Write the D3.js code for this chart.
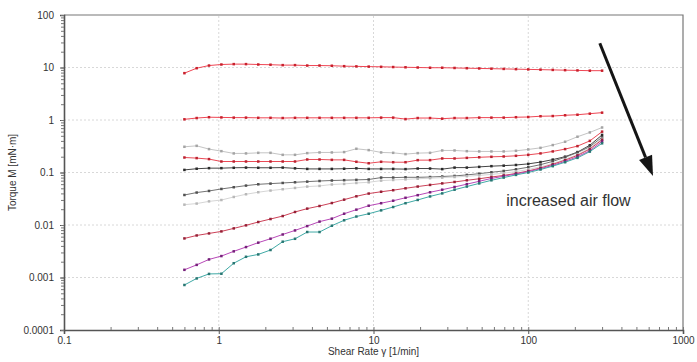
<!DOCTYPE html>
<html>
<head>
<meta charset="utf-8">
<script src="https://cdn.jsdelivr.net/npm/d3@7"></script>
<style>
  body { margin: 0; background: #fff; }
  svg text { font-family: "Liberation Sans", Arial, sans-serif; }
</style>
</head>
<body>
<svg id="chart" width="697" height="362"></svg>
<script>
// shear rate steps [1/min]
const shearRate = [0.6, 0.72, 0.865, 1.04, 1.25, 1.5, 1.8, 2.16, 2.59, 3.11, 3.73, 4.48,
  5.38, 6.46, 7.75, 9.31, 11.2, 13.4, 16.1, 19.3, 23.2, 27.8, 33.4, 40.1, 48.2, 57.8,
  69.4, 83.3, 100, 120, 144, 173, 208, 250, 300];

// torque [mN·m], one array per air flow setting (top to bottom)
const torque1 = [7.8, 9.7, 10.9, 11.4, 11.6, 11.6, 11.4, 11.3, 11.1, 11.1, 10.9, 10.9, 10.8,
  10.6, 10.5, 10.4, 10.3, 10.2, 10.1, 10.0, 9.9, 9.9, 9.8, 9.7, 9.6, 9.5, 9.4, 9.3, 9.2, 9.1,
  9.0, 8.9, 8.8, 8.7, 8.7];
const torque2 = [1.03, 1.09, 1.13, 1.12, 1.11, 1.11, 1.10, 1.10, 1.09, 1.10, 1.10, 1.10, 1.10,
  1.10, 1.10, 1.10, 1.11, 1.11, 1.04, 1.09, 1.09, 1.06, 1.09, 1.09, 1.11, 1.11, 1.11, 1.13,
  1.14, 1.18, 1.19, 1.23, 1.26, 1.32, 1.38];
const torque3 = [0.309, 0.322, 0.279, 0.255, 0.231, 0.231, 0.237, 0.237, 0.217, 0.217, 0.234,
  0.241, 0.241, 0.245, 0.283, 0.267, 0.241, 0.237, 0.224, 0.234, 0.237, 0.263, 0.263, 0.255,
  0.252, 0.252, 0.252, 0.259, 0.275, 0.295, 0.333, 0.385, 0.48, 0.58, 0.72];
const torque4 = [0.193, 0.188, 0.180, 0.162, 0.162, 0.162, 0.162, 0.162, 0.162, 0.162, 0.177,
  0.177, 0.174, 0.174, 0.160, 0.150, 0.160, 0.157, 0.157, 0.172, 0.172, 0.185, 0.185, 0.190,
  0.195, 0.199, 0.202, 0.208, 0.217, 0.231, 0.252, 0.279, 0.318, 0.40, 0.60];
const torque5 = [0.112, 0.118, 0.121, 0.121, 0.123, 0.124, 0.123, 0.123, 0.124, 0.120, 0.117,
  0.117, 0.117, 0.118, 0.120, 0.117, 0.117, 0.117, 0.116, 0.119, 0.119, 0.116, 0.124, 0.124,
  0.128, 0.132, 0.135, 0.139, 0.146, 0.158, 0.176, 0.20, 0.245, 0.33, 0.52];
const torque6 = [0.0373, 0.0415, 0.0445, 0.0486, 0.0524, 0.0563, 0.0596, 0.0614, 0.0632,
  0.0651, 0.067, 0.0689, 0.0704, 0.0714, 0.0724, 0.0736, 0.080, 0.080, 0.081, 0.081, 0.082,
  0.084, 0.086, 0.090, 0.095, 0.101, 0.107, 0.115, 0.126, 0.141, 0.163, 0.195, 0.24, 0.31, 0.47];
const torque7 = [0.0244, 0.0256, 0.0282, 0.0299, 0.0342, 0.0385, 0.0421, 0.0453, 0.048,
  0.0508, 0.0539, 0.0555, 0.0591, 0.0606, 0.0632, 0.0651, 0.070, 0.072, 0.074, 0.076, 0.078,
  0.080, 0.082, 0.085, 0.088, 0.092, 0.097, 0.104, 0.114, 0.128, 0.148, 0.178, 0.22, 0.29, 0.44];
const torque8 = [0.00555, 0.00632, 0.00691, 0.00755, 0.00862, 0.00985, 0.0114, 0.013, 0.0148,
  0.0177, 0.0205, 0.023, 0.0262, 0.0304, 0.0352, 0.0397, 0.043, 0.046, 0.050, 0.054, 0.058,
  0.062, 0.066, 0.071, 0.076, 0.082, 0.088, 0.096, 0.107, 0.122, 0.143, 0.172, 0.212, 0.28, 0.42];
const torque9 = [0.0014, 0.00174, 0.00221, 0.00256, 0.00315, 0.0038, 0.00461, 0.00548, 0.0066,
  0.00788, 0.00953, 0.0116, 0.0132, 0.0164, 0.0196, 0.0233, 0.026, 0.029, 0.033, 0.037, 0.042,
  0.047, 0.053, 0.060, 0.068, 0.077, 0.085, 0.094, 0.104, 0.118, 0.137, 0.163, 0.20, 0.26, 0.39];
const torque10 = [0.00072, 0.00096, 0.00117, 0.00118, 0.00187, 0.00248, 0.00275, 0.00334,
  0.00481, 0.00546, 0.00735, 0.00735, 0.00969, 0.0123, 0.0145, 0.0164, 0.019, 0.022, 0.026,
  0.030, 0.035, 0.040, 0.047, 0.054, 0.062, 0.071, 0.080, 0.090, 0.100, 0.114, 0.132, 0.157,
  0.19, 0.25, 0.36];

const xTicks = [0.1, 1, 10, 100, 1000];
const yTicks = [0.0001, 0.001, 0.01, 0.1, 1, 10, 100];
const yTickLabels = ["0.0001", "0.001", "0.01", "0.1", "1", "10", "100"];

const series = [
  { values: torque1, line: "#ef4654", dot: "#c8202c" },
  { values: torque2, line: "#ef4654", dot: "#c8202c" },
  { values: torque3, line: "#c4c4c4", dot: "#a4a4a4" },
  { values: torque4, line: "#ea4a56", dot: "#bb2230" },
  { values: torque5, line: "#444", dot: "#2a2a2a" },
  { values: torque6, line: "#737373", dot: "#505050" },
  { values: torque7, line: "#d6d6d6", dot: "#b8b8b8" },
  { values: torque8, line: "#cc4258", dot: "#962036" },
  { values: torque9, line: "#b848b8", dot: "#76207a" },
  { values: torque10, line: "#40aaa6", dot: "#287672" },
];

const svg = d3.select("#chart");
const margin = { left: 64, right: 14, top: 15, bottom: 32 };
const W = 697, H = 362;

const x = d3.scaleLog().domain([0.1, 1000]).range([margin.left, W - margin.right]);
const y = d3.scaleLog().domain([0.0001, 100]).range([H - margin.bottom, margin.top]);

// grid
const grid = svg.append("g").attr("stroke", "#d8d8d8").attr("stroke-dasharray", "2,2");
grid.selectAll("line.gx").data(xTicks.slice(1, -1)).enter().append("line")
  .attr("x1", d => x(d)).attr("x2", d => x(d))
  .attr("y1", y.range()[0]).attr("y2", y.range()[1]);
grid.selectAll("line.gy").data(yTicks.slice(1, -1)).enter().append("line")
  .attr("x1", x.range()[0]).attr("x2", x.range()[1])
  .attr("y1", d => y(d)).attr("y2", d => y(d));

// frame on top and right
svg.append("path")
  .attr("d", `M${x.range()[0]},${y.range()[1]}H${x.range()[1]}V${y.range()[0]}`)
  .attr("fill", "none").attr("stroke", "#777").attr("stroke-width", 1.2);

// axes
const xAxis = d3.axisBottom(x).tickValues(xTicks).tickFormat(d => String(d)).tickSize(4).tickPadding(3);
const gx = svg.append("g").attr("transform", `translate(0,${y.range()[0]})`).call(xAxis);
const xMinor = svg.append("g").attr("transform", `translate(0,${y.range()[0]})`)
  .call(d3.axisBottom(x).ticks(40).tickFormat("").tickSize(-3));
xMinor.select(".domain").remove();

const yAxis = d3.axisLeft(y).tickValues(yTicks).tickFormat((d, i) => yTickLabels[i]).tickSize(4).tickPadding(6);
const gy = svg.append("g").attr("transform", `translate(${x.range()[0]},0)`).call(yAxis);
const yMinor = svg.append("g").attr("transform", `translate(${x.range()[0]},0)`)
  .call(d3.axisLeft(y).ticks(60).tickFormat("").tickSize(3));
yMinor.select(".domain").remove();

[gx, gy].forEach(g => {
  g.select(".domain").attr("stroke", "#555").attr("stroke-width", 1.6);
  g.selectAll(".tick line").attr("stroke", "#555");
  g.selectAll(".tick text").attr("fill", "#333").attr("font-size", 10)
    .attr("font-family", "'Liberation Sans', Arial, sans-serif");
});
[xMinor, yMinor].forEach(g => g.selectAll(".tick line").attr("stroke", "#777"));

// axis titles
svg.append("text")
  .attr("x", (x.range()[0] + x.range()[1]) / 2).attr("y", 355)
  .attr("text-anchor", "middle").attr("font-size", 10).attr("fill", "#333")
  .text("Shear Rate γ [1/min]");
svg.append("text")
  .attr("transform", `translate(16,${(y.range()[0] + y.range()[1]) / 2}) rotate(-90)`)
  .attr("text-anchor", "middle").attr("font-size", 10).attr("fill", "#333")
  .text("Torque M [mN·m]");

// data lines
const line = d3.line().x((d, i) => x(shearRate[i])).y(d => y(d));
series.forEach(s => {
  const g = svg.append("g");
  g.append("path").datum(s.values)
    .attr("d", line).attr("fill", "none")
    .attr("stroke", s.line).attr("stroke-width", 1);
  g.selectAll("rect").data(s.values).enter().append("rect")
    .attr("x", (d, i) => x(shearRate[i]) - 1.25)
    .attr("y", d => y(d) - 1.25)
    .attr("width", 2.5).attr("height", 2.5)
    .attr("fill", s.dot);
});

// annotation arrow
const arrowFrom = [290, 29], arrowTo = [640, 0.086];
const x0 = x(arrowFrom[0]), y0 = y(arrowFrom[1]);
const x1 = x(arrowTo[0]), y1 = y(arrowTo[1]);
const ang = Math.atan2(y1 - y0, x1 - x0);
const headLen = 20, headHalf = 7;
const bx = x1 - headLen * Math.cos(ang), by = y1 - headLen * Math.sin(ang);
svg.append("line")
  .attr("x1", x0).attr("y1", y0).attr("x2", bx).attr("y2", by)
  .attr("stroke", "#151515").attr("stroke-width", 3);
svg.append("path")
  .attr("d", `M${x1},${y1}L${bx + headHalf * Math.sin(ang)},${by - headHalf * Math.cos(ang)}` +
    `L${bx - headHalf * Math.sin(ang)},${by + headHalf * Math.cos(ang)}Z`)
  .attr("fill", "#151515");

svg.append("text")
  .attr("x", x(72)).attr("y", y(0.023))
  .attr("font-family", "Roboto, 'Liberation Sans', sans-serif")
  .attr("font-weight", 300).attr("font-size", 16).attr("fill", "#333")
  .text("increased air flow");
</script>
</body>
</html>
